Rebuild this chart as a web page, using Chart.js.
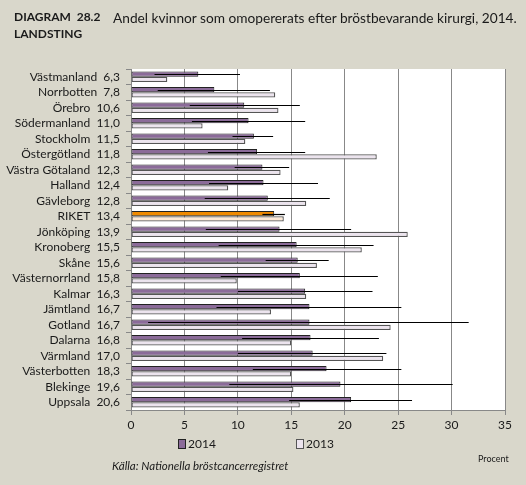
<!DOCTYPE html>
<html>
<head>
<meta charset="utf-8">
<script src="https://cdn.jsdelivr.net/npm/chart.js@4"></script>
<style>
  body { margin: 0; background: #d9d7cb; font-family: Lato, sans-serif; color: #1a1a1a; }
  #wrap { position: relative; width: 526px; height: 485px; overflow: hidden; }
  canvas { position: absolute; left: 0; top: 0; }
  .t { position: absolute; white-space: nowrap; }
  .lg { position: absolute; font-size: 12px; white-space: nowrap; }
  .lg i { display: inline-block; width: 6px; height: 8px; margin-right: 2px; vertical-align: -1px; }
</style>
</head>
<body>
<div id="wrap">
  <canvas id="chart" width="526" height="485"></canvas>
  <div class="t" style="left:14px;top:9px;font-size:12px;font-weight:bold;">DIAGRAM&nbsp; 28.2</div>
  <div class="t" style="left:14px;top:26px;font-size:12px;font-weight:bold;">LANDSTING</div>
  <div class="t" style="left:113px;top:9px;font-size:13.7px;">Andel kvinnor som omopererats efter bröstbevarande kirurgi, 2014.</div>
  <div class="lg" style="left:178px;top:436px;"><i style="background:#8b6b99;border:1px solid #222;"></i>2014</div>
  <div class="lg" style="left:296px;top:436px;"><i style="background:#ece4ee;border:1px solid #555;"></i>2013</div>
  <div class="t" style="left:478px;top:453px;font-size:9px;">Procent</div>
  <div class="t" style="left:112px;top:459px;font-size:11.5px;font-style:italic;">Källa: Nationella bröstcancerregistret</div>
</div>
<script>
const regions = ['Västmanland', 'Norrbotten', 'Örebro', 'Södermanland', 'Stockholm', 'Östergötland',
  'Västra Götaland', 'Halland', 'Gävleborg', 'RIKET', 'Jönköping', 'Kronoberg', 'Skåne',
  'Västernorrland', 'Kalmar', 'Jämtland', 'Gotland', 'Dalarna', 'Värmland', 'Västerbotten',
  'Blekinge', 'Uppsala'];
const values2014 = [6.3, 7.8, 10.6, 11.0, 11.5, 11.8, 12.3, 12.4, 12.8, 13.4, 13.9, 15.5, 15.6,
  15.8, 16.3, 16.7, 16.7, 16.8, 17.0, 18.3, 19.6, 20.6];
const values2013 = [3.4, 13.5, 13.8, 6.7, 10.7, 23.0, 14.0, 9.1, 16.4, 14.3, 25.9, 21.6, 17.4,
  9.9, 16.4, 13.1, 24.3, 15.0, 23.6, 15.0, 15.2, 15.8];
const ciLow2014 = [2.2, 2.5, 5.5, 5.7, 9.5, 7.2, 9.7, 7.3, 6.9, 12.3, 7.0, 8.2, 12.6,
  8.4, 10.0, 8.0, 1.6, 10.4, 10.0, 11.4, 9.2, 14.8];
const ciHigh2014 = [10.2, 13.0, 15.8, 16.3, 13.3, 16.3, 14.8, 17.5, 18.6, 14.4, 20.6, 22.7, 18.5,
  23.1, 22.6, 25.3, 31.6, 23.2, 23.9, 25.3, 30.1, 26.3];
const xTicks = [0, 5, 10, 15, 20, 25, 30, 35];

const labels = regions.map((r, i) => r + '  ' + values2014[i].toFixed(1).replace('.', ','));
const col2014 = regions.map(r => r === 'RIKET' ? '#f08a00' : '#8b6b99');
const col2013 = regions.map(r => r === 'RIKET' ? '#fde9d6' : '#ece4ee');

// white plot area + confidence interval lines
const plotBg = {
  id: 'plotBg',
  beforeDraw(chart) {
    const { ctx, chartArea: a } = chart;
    ctx.save();
    ctx.fillStyle = '#fff';
    ctx.fillRect(a.left, a.top, a.right - a.left, a.bottom - a.top);
    ctx.restore();
  }
};
const ciLines = {
  id: 'ciLines',
  afterDatasetsDraw(chart) {
    const { ctx, scales: { x } } = chart;
    const bars = chart.getDatasetMeta(0).data;
    ctx.save();
    ctx.strokeStyle = '#000';
    ctx.lineWidth = 1.2;
    bars.forEach((b, i) => {
      const y = Math.round(b.y) + 0.5;
      ctx.beginPath();
      ctx.moveTo(x.getPixelForValue(ciLow2014[i]), y);
      ctx.lineTo(x.getPixelForValue(ciHigh2014[i]), y);
      ctx.stroke();
    });
    ctx.restore();
  }
};

Chart.defaults.font.family = 'Lato';
Chart.defaults.color = '#1a1a1a';

new Chart(document.getElementById('chart'), {
  type: 'bar',
  data: {
    labels: labels,
    datasets: [
      { label: '2014', data: values2014, backgroundColor: col2014, borderColor: '#222', borderWidth: 1, borderSkipped: false },
      { label: '2013', data: values2013, backgroundColor: col2013, borderColor: '#555', borderWidth: 1.3, borderSkipped: false }
    ]
  },
  options: {
    indexAxis: 'y',
    responsive: false,
    animation: false,
    layout: { padding: { left: 0, top: 69, right: 21, bottom: 55 } },
    datasets: { bar: { categoryPercentage: 0.68, barPercentage: 1.0 } },
    plugins: { legend: { display: false }, tooltip: { enabled: false } },
    scales: {
      x: {
        min: 0, max: 35,
        afterBuildTicks: s => { s.ticks = xTicks.map(v => ({ value: v })); },
        afterFit: s => { s.height = 20; },
        grid: { color: '#888', lineWidth: 1, tickLength: 5 },
        border: { color: '#888' },
        ticks: { font: { size: 12 }, padding: 3 }
      },
      y: {
        afterFit: s => { s.width = 131; },
        grid: { drawOnChartArea: false, color: '#888', tickLength: 5, offset: true },
        border: { color: '#888' },
        ticks: { font: { size: 12 }, padding: 6, autoSkip: false }
      }
    }
  },
  plugins: [plotBg, ciLines]
});
</script>
</body>
</html>
